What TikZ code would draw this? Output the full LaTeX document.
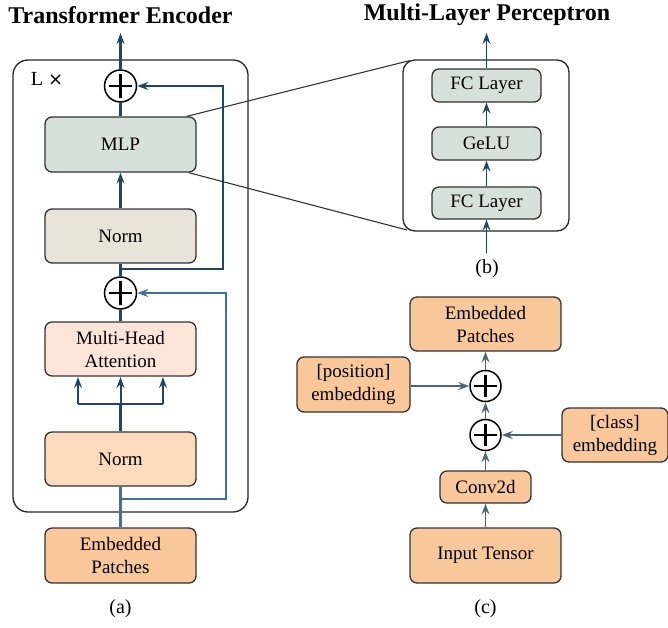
\documentclass[tikz,border=0pt]{standalone}
\usepackage{fontspec}
\setmainfont{Liberation Serif}
\newfontfamily\symfont{DejaVu Sans}
\usetikzlibrary{arrows.meta}

\definecolor{flow}{HTML}{1F4765}
\definecolor{flowin}{HTML}{41709C}
\definecolor{flowc}{HTML}{4A6779}
\definecolor{mlpfill}{HTML}{D6E1DB}
\definecolor{normfill}{HTML}{EAE3DA}
\definecolor{attfill}{HTML}{FCE4D9}
\definecolor{inpfill}{HTML}{FCDABC}
\definecolor{embfill}{HTML}{F9C89A}

\tikzset{
    blk/.style={draw=black!80, line width=1.3pt, rounded corners=7pt, align=center,
        font=\fontsize{19}{23}\selectfont, inner sep=0pt},
    sumnode/.style={circle, draw=black, line width=1.5pt, minimum size=#1, inner sep=0pt,
        path picture={
            \draw[line width=2.4pt] ([xshift=-0.36*#1]path picture bounding box.center)
                -- ([xshift=0.36*#1]path picture bounding box.center);
            \draw[line width=2.4pt] ([yshift=-0.36*#1]path picture bounding box.center)
                -- ([yshift=0.36*#1]path picture bounding box.center);
        }},
    sumnode/.default=32pt,
    arr/.style={-{Stealth[length=11pt,width=8pt,inset=4pt]}},
    title/.style={font=\fontsize{24}{28}\selectfont\bfseries},
    caption/.style={font=\fontsize{20}{24}\selectfont}
}

\begin{document}
\begin{tikzpicture}[x=1pt,y=-1pt]
            \useasboundingbox (0, 0) rectangle (668, 627);

            % (a) encoder
            \node[title] (ttla) at (120.5, 15) {Transformer Encoder};
            \draw[line width=1.3pt, black!85, rounded corners=15pt] (13, 60) rectangle (248, 512);
            \node[caption] (lx) at (47, 79) {L {\symfont\fontsize{18}{20}\selectfont ×}};

            \node[blk, fill=mlpfill, minimum width=151, minimum height=55] (mlp) at (120.5, 144.5) {MLP};
            \node[blk, fill=normfill, minimum width=151, minimum height=54] (normtop) at (120.5, 236) {Norm};
            \node[blk, fill=attfill, minimum width=151, minimum height=54] (mha) at (120.5, 349) {Multi-Head\\Attention};
            \node[blk, fill=inpfill, minimum width=151, minimum height=54] (normbot) at (120.5, 459) {Norm};
            \node[blk, fill=embfill, minimum width=151, minimum height=55] (emba) at (120.5, 555.5) {Embedded\\Patches};
            \node[sumnode] (sumtop) at (120.5, 86) {};
            \node[sumnode] (summid) at (120.5, 293) {};
            \node[caption] (capa) at (120.5, 609) {(a)};

            \coordinate (outa) at (120.5, 33);
            \coordinate (split) at (120.5, 404);
            \coordinate (resa) at (120.5, 499);
            \coordinate (resb) at (120.5, 269);

            \draw[line width=2.6pt, flowin] (emba.north) -- (normbot.south);
            \draw[line width=2.2pt, flowin, arr] (resa) -| (226, 293) -- (summid.east);
            \draw[line width=2.6pt, flow] (normbot.north) -- (split);
            \draw[line width=2pt, flow] (78, 404) -- (163, 404);
            \foreach \xx in {78, 120.5, 163}
                \draw[line width=2pt, flow, arr] (\xx, 404) -- (\xx, 377);
            \draw[line width=2.6pt, flow] (mha.north) -- (summid.south);
            \draw[line width=2.6pt, flow] (summid.north) -- (normtop.south);
            \draw[line width=2.2pt, flow, arr] (resb) -| (223, 86) -- (sumtop.east);
            \draw[line width=2.2pt, flow, arr] (normtop.north) -- (mlp.south);
            \draw[line width=2.6pt, flow] (mlp.north) -- (sumtop.south);
            \draw[line width=2.2pt, flow, arr] (sumtop.north) -- (outa);

            % (b) mlp
            \node[title] (ttlb) at (487, 15) {Multi-Layer Perceptron};
            \draw[line width=1.3pt, black!85, rounded corners=12pt] (403, 60) rectangle (569, 231);
            \node[blk, fill=mlpfill, minimum width=109, minimum height=33] (fctop) at (486.5, 85.5) {FC Layer};
            \node[blk, fill=mlpfill, minimum width=109, minimum height=33] (gelu) at (486.5, 143.5) {GeLU};
            \node[blk, fill=mlpfill, minimum width=109, minimum height=32] (fcbot) at (486.5, 203) {FC Layer};
            \node[caption] (capb) at (487, 269) {(b)};
            \coordinate (inb) at (486.5, 253);
            \coordinate (outb) at (486.5, 33);

            \draw[line width=1.8pt, flow, arr] (inb) -- (fcbot.south);
            \draw[line width=1.8pt, flow, arr] (fcbot.north) -- (gelu.south);
            \draw[line width=1.8pt, flow, arr] (gelu.north) -- (fctop.south);
            \draw[line width=1.8pt, flow, arr] (fctop.north) -- (outb);

            \draw[line width=1.1pt, black!80] ([xshift=-10pt]mlp.north east) -- (410, 60.5);
            \draw[line width=1.1pt, black!80] ([xshift=-8pt]mlp.south east) -- (407, 230);

            % (c) patch embedding
            \node[blk, fill=embfill, minimum width=151, minimum height=54] (embc) at (485.5, 324) {Embedded\\Patches};
            \node[blk, fill=embfill, minimum width=113, minimum height=55] (posemb) at (353.5, 384.5) {[position]\\embedding};
            \node[blk, fill=embfill, minimum width=106, minimum height=54] (clsemb) at (615, 435) {[class]\\embedding};
            \node[blk, fill=embfill, minimum width=91, minimum height=32] (conv) at (485.5, 487) {Conv2d};
            \node[blk, fill=embfill, minimum width=151, minimum height=55] (inpt) at (485.5, 555.5) {Input Tensor};
            \node[sumnode=31pt] (sumpos) at (485.5, 386) {};
            \node[sumnode=31pt] (sumcls) at (485.5, 435) {};
            \node[caption] (capc) at (485.5, 609) {(c)};

            \draw[line width=1.8pt, flowc, arr] (inpt.north) -- (conv.south);
            \draw[line width=1.8pt, flowc, arr] (conv.north) -- (sumcls.south);
            \draw[line width=1.8pt, flowc, arr] (sumcls.north) -- (sumpos.south);
            \draw[line width=1.8pt, flowc, arr] (sumpos.north) -- (embc.south);
            \draw[line width=1.8pt, flowc, arr] (posemb.east |- sumpos) -- (sumpos.west);
            \draw[line width=1.8pt, flowc, arr] (clsemb.west |- sumcls) -- (sumcls.east);
        \end{tikzpicture}
\end{document}
